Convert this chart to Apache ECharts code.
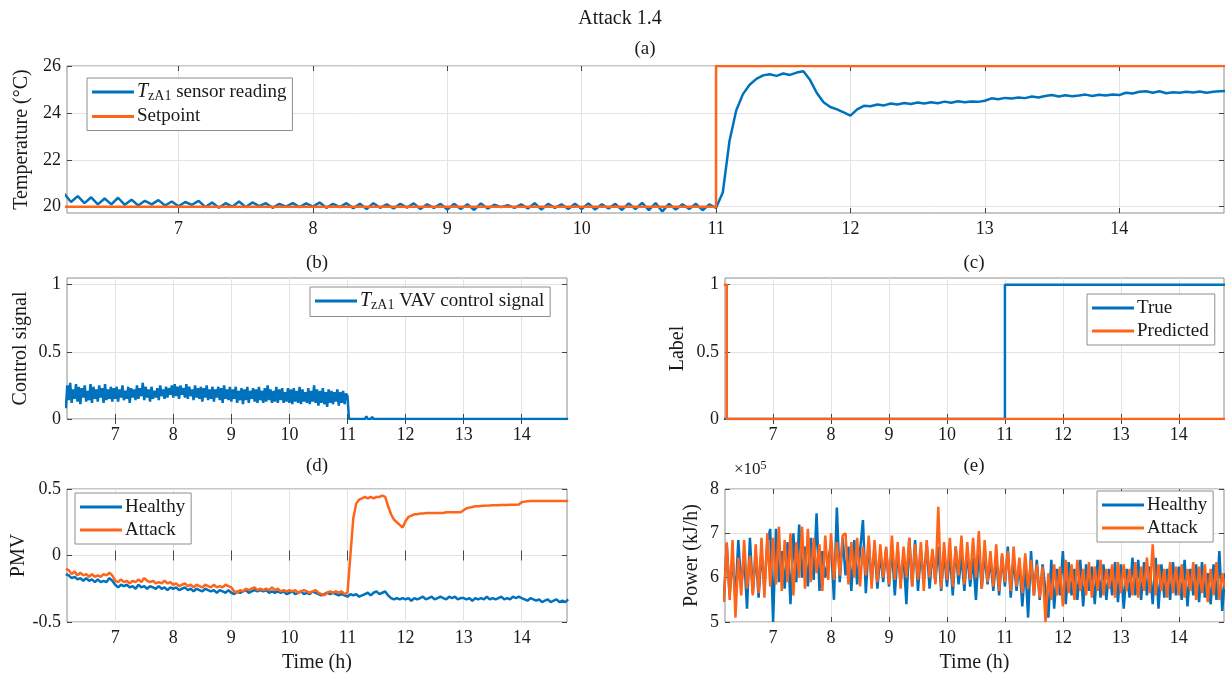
<!DOCTYPE html>
<html>
<head>
<meta charset="utf-8">
<title>Attack 1.4</title>
<script src="https://cdn.jsdelivr.net/npm/echarts@6/dist/echarts.min.js"></script>
<style>
  html, body { margin: 0; padding: 0; background: #ffffff; }
  #chart { width: 1225px; height: 674px; }
</style>
</head>
<body>
<div id="chart"></div>
<script>
// ---- sample times (h) ----
const hours = [
  6.15, 6.2, 6.25, 6.3, 6.35, 6.4, 6.45, 6.5, 6.55, 6.6, 6.65, 6.7, 6.75, 6.8, 6.85, 6.9, 6.95,
  7, 7.05, 7.1, 7.15, 7.2, 7.25, 7.3, 7.35, 7.4, 7.45, 7.5, 7.55, 7.6, 7.65, 7.7, 7.75, 7.8, 7.85, 7.9, 7.95,
  8, 8.05, 8.1, 8.15, 8.2, 8.25, 8.3, 8.35, 8.4, 8.45, 8.5, 8.55, 8.6, 8.65, 8.7, 8.75, 8.8, 8.85, 8.9, 8.95,
  9, 9.05, 9.1, 9.15, 9.2, 9.25, 9.3, 9.35, 9.4, 9.45, 9.5, 9.55, 9.6, 9.65, 9.7, 9.75, 9.8, 9.85, 9.9, 9.95,
  10, 10.05, 10.1, 10.15, 10.2, 10.25, 10.3, 10.35, 10.4, 10.45, 10.5, 10.55, 10.6, 10.65, 10.7, 10.75, 10.8, 10.85, 10.9, 10.95,
  11, 11.05, 11.1, 11.15, 11.2, 11.25, 11.3, 11.35, 11.4, 11.45, 11.5, 11.55, 11.6, 11.65, 11.7, 11.75, 11.8, 11.85, 11.9, 11.95,
  12, 12.05, 12.1, 12.15, 12.2, 12.25, 12.3, 12.35, 12.4, 12.45, 12.5, 12.55, 12.6, 12.65, 12.7, 12.75, 12.8, 12.85, 12.9, 12.95,
  13, 13.05, 13.1, 13.15, 13.2, 13.25, 13.3, 13.35, 13.4, 13.45, 13.5, 13.55, 13.6, 13.65, 13.7, 13.75, 13.8, 13.85, 13.9, 13.95,
  14, 14.05, 14.1, 14.15, 14.2, 14.25, 14.3, 14.35, 14.4, 14.45, 14.5, 14.55, 14.6, 14.65, 14.7, 14.75, 14.8
];

// ---- (a) zone temperature (°C) ----
const tempSensor = [
  20.55, 20.2, 20.45, 20.15, 20.4, 20.1, 20.35, 20.1, 20.38, 20.08, 20.3, 20.05, 20.25, 20.1, 20.28, 20.05, 20.22,
  20.02, 20.2, 20.08, 20.25, 19.98, 20.18, 19.95, 20.15, 20.0, 20.22, 19.98, 20.18, 20.02, 20.15, 19.95, 20.12, 20.0, 20.15, 19.98, 20.14,
  20.0, 20.18, 19.95, 20.12, 19.98, 20.15, 19.93, 20.12, 19.9, 20.15, 19.95, 20.1, 19.92, 20.12, 19.96, 20.14, 19.9, 20.1, 19.95, 20.12,
  19.88, 20.12, 19.9, 20.1, 19.86, 20.14, 19.92, 20.08, 19.98, 20.06, 19.95, 20.1, 19.92, 20.15, 19.88, 20.12, 19.95, 20.1, 19.9, 20.12,
  19.9, 20.14, 19.88, 20.1, 19.92, 20.12, 19.86, 20.14, 19.9, 20.16, 19.85, 20.15, 19.8, 20.12, 19.88, 20.1, 19.9, 20.12, 19.85, 20.1,
  19.95, 20.6, 22.8, 24.1, 24.8, 25.2, 25.45, 25.6, 25.65, 25.58, 25.68, 25.62, 25.72, 25.78, 25.4, 24.85, 24.45, 24.25, 24.15, 24.02,
  23.88, 24.15, 24.3, 24.28, 24.36, 24.32, 24.4, 24.36, 24.42, 24.38, 24.44, 24.4, 24.45, 24.41, 24.48, 24.43, 24.5, 24.45, 24.49, 24.47,
  24.52, 24.62, 24.58, 24.64, 24.61, 24.66, 24.63, 24.7, 24.66, 24.72, 24.76, 24.7, 24.75, 24.71, 24.74, 24.78, 24.72, 24.77, 24.74, 24.78,
  24.76, 24.86, 24.83, 24.9, 24.92, 24.86, 24.92, 24.84, 24.88, 24.86, 24.9, 24.87, 24.91, 24.86, 24.9, 24.92, 24.94
];
const setpointTime = [6.15, 11, 14.8];
const setpointValue = [20, 26, 26];

// ---- (b) VAV control signal, sampled every 1.5 min while active ----
const controlTime = [
  6.15, 6.175, 6.2, 6.225, 6.25, 6.275, 6.3, 6.325, 6.35, 6.375, 6.4, 6.425, 6.45, 6.475, 6.5, 6.525, 6.55,
  6.575, 6.6, 6.625, 6.65, 6.675, 6.7, 6.725, 6.75, 6.775, 6.8, 6.825, 6.85, 6.875, 6.9, 6.925, 6.95, 6.975,
  7, 7.025, 7.05, 7.075, 7.1, 7.125, 7.15, 7.175, 7.2, 7.225, 7.25, 7.275, 7.3, 7.325, 7.35, 7.375, 7.4, 7.425, 7.45, 7.475,
  7.5, 7.525, 7.55, 7.575, 7.6, 7.625, 7.65, 7.675, 7.7, 7.725, 7.75, 7.775, 7.8, 7.825, 7.85, 7.875, 7.9, 7.925, 7.95, 7.975,
  8, 8.025, 8.05, 8.075, 8.1, 8.125, 8.15, 8.175, 8.2, 8.225, 8.25, 8.275, 8.3, 8.325, 8.35, 8.375, 8.4, 8.425, 8.45, 8.475,
  8.5, 8.525, 8.55, 8.575, 8.6, 8.625, 8.65, 8.675, 8.7, 8.725, 8.75, 8.775, 8.8, 8.825, 8.85, 8.875, 8.9, 8.925, 8.95, 8.975,
  9, 9.025, 9.05, 9.075, 9.1, 9.125, 9.15, 9.175, 9.2, 9.225, 9.25, 9.275, 9.3, 9.325, 9.35, 9.375, 9.4, 9.425, 9.45, 9.475,
  9.5, 9.525, 9.55, 9.575, 9.6, 9.625, 9.65, 9.675, 9.7, 9.725, 9.75, 9.775, 9.8, 9.825, 9.85, 9.875, 9.9, 9.925, 9.95, 9.975,
  10, 10.025, 10.05, 10.075, 10.1, 10.125, 10.15, 10.175, 10.2, 10.225, 10.25, 10.275, 10.3, 10.325, 10.35, 10.375, 10.4, 10.425, 10.45, 10.475,
  10.5, 10.525, 10.55, 10.575, 10.6, 10.625, 10.65, 10.675, 10.7, 10.725, 10.75, 10.775, 10.8, 10.825, 10.85, 10.875, 10.9, 10.925, 10.95, 10.975,
  11, 11.025, 11.3, 11.325, 11.35, 11.4, 11.425, 11.45, 11.55, 11.575, 11.6, 11.65, 11.675, 11.7, 14.8
];
const controlSignal = [
  0.08, 0.25, 0.14, 0.27, 0.12, 0.22, 0.15, 0.26, 0.13, 0.24, 0.11, 0.23, 0.16, 0.25, 0.13, 0.21, 0.14,
  0.26, 0.12, 0.24, 0.15, 0.22, 0.13, 0.25, 0.16, 0.23, 0.12, 0.26, 0.14, 0.22, 0.15, 0.24, 0.13, 0.23,
  0.15, 0.24, 0.13, 0.22, 0.16, 0.25, 0.14, 0.21, 0.15, 0.24, 0.12, 0.23, 0.16, 0.22, 0.14, 0.25, 0.15, 0.23, 0.17, 0.27,
  0.14, 0.24, 0.16, 0.22, 0.13, 0.24, 0.15, 0.21, 0.16, 0.23, 0.14, 0.25, 0.17, 0.22, 0.15, 0.24, 0.16, 0.23, 0.18, 0.25,
  0.16, 0.26, 0.17, 0.24, 0.15, 0.25, 0.18, 0.23, 0.16, 0.26, 0.15, 0.24, 0.17, 0.22, 0.14, 0.25, 0.16, 0.23, 0.15, 0.24,
  0.13, 0.23, 0.16, 0.25, 0.14, 0.22, 0.15, 0.24, 0.13, 0.22, 0.16, 0.24, 0.14, 0.23, 0.12, 0.25, 0.15, 0.22, 0.14, 0.24,
  0.13, 0.22, 0.15, 0.24, 0.12, 0.21, 0.14, 0.23, 0.11, 0.22, 0.14, 0.24, 0.12, 0.21, 0.15, 0.23, 0.13, 0.22, 0.12, 0.24,
  0.14, 0.21, 0.12, 0.23, 0.13, 0.25, 0.14, 0.22, 0.12, 0.21, 0.13, 0.24, 0.12, 0.22, 0.14, 0.23, 0.12, 0.2, 0.13, 0.23,
  0.12, 0.22, 0.11, 0.23, 0.13, 0.21, 0.12, 0.24, 0.11, 0.22, 0.13, 0.2, 0.12, 0.23, 0.11, 0.21, 0.13, 0.25, 0.12, 0.22,
  0.1, 0.21, 0.12, 0.23, 0.11, 0.2, 0.09, 0.22, 0.12, 0.21, 0.11, 0.2, 0.13, 0.22, 0.1, 0.2, 0.12, 0.21, 0.11, 0.19,
  0.17, 0, 0, 0.02, 0, 0, 0.015, 0, 0, 0.01, 0, 0, 0.012, 0, 0
];

// ---- (c) detection labels ----
const labelTrueTime = [6.15, 11, 14.8];
const labelTrueValue = [0, 1, 1];
const labelPredTime = [6.15, 6.2, 14.8];
const labelPredValue = [1, 0, 0];

// ---- (d) PMV ----
const pmvHealthy = [
  -0.14, -0.15, -0.17, -0.16, -0.18, -0.17, -0.19, -0.17, -0.19, -0.18, -0.2, -0.18, -0.2, -0.19, -0.2, -0.17, -0.19,
  -0.22, -0.24, -0.22, -0.23, -0.22, -0.24, -0.23, -0.25, -0.22, -0.24, -0.23, -0.25, -0.23, -0.24, -0.25, -0.23, -0.25, -0.24, -0.26, -0.24,
  -0.25, -0.24, -0.26, -0.25, -0.24, -0.26, -0.25, -0.27, -0.25, -0.26, -0.27, -0.25, -0.26, -0.27, -0.26, -0.28, -0.26, -0.27, -0.28, -0.26,
  -0.28, -0.29, -0.27, -0.28, -0.27, -0.26, -0.28, -0.27, -0.26, -0.27, -0.26, -0.27, -0.26, -0.28, -0.27, -0.28, -0.27, -0.28, -0.27, -0.29,
  -0.28, -0.27, -0.29, -0.28, -0.27, -0.29, -0.28, -0.29, -0.27, -0.28, -0.29, -0.3, -0.29, -0.28, -0.29, -0.28, -0.29, -0.3, -0.29, -0.3,
  -0.31, -0.29, -0.3, -0.29, -0.31, -0.3, -0.29, -0.28, -0.3, -0.28, -0.27, -0.29, -0.28, -0.27, -0.3, -0.32, -0.33, -0.32, -0.33, -0.32,
  -0.33, -0.32, -0.34, -0.32, -0.33, -0.32, -0.31, -0.33, -0.32, -0.31, -0.33, -0.32, -0.31, -0.32, -0.33, -0.31, -0.32, -0.31, -0.33, -0.32,
  -0.32, -0.33, -0.32, -0.34, -0.32, -0.33, -0.32, -0.33, -0.31, -0.33, -0.32, -0.33, -0.32, -0.31, -0.33, -0.32, -0.33, -0.31, -0.32, -0.31,
  -0.32, -0.33, -0.34, -0.32, -0.33, -0.34, -0.33, -0.35, -0.34, -0.33, -0.35, -0.34, -0.33, -0.35, -0.34, -0.35, -0.33
];
const pmvAttack = [
  -0.1, -0.11, -0.14, -0.12, -0.15, -0.13, -0.15, -0.14, -0.16, -0.14, -0.16, -0.15, -0.16, -0.14, -0.15, -0.13, -0.15,
  -0.19, -0.2, -0.18, -0.2, -0.19, -0.21, -0.19, -0.2, -0.18, -0.2, -0.17, -0.19, -0.2, -0.19, -0.21, -0.2, -0.21, -0.19, -0.21, -0.2,
  -0.22, -0.21, -0.23, -0.22, -0.21, -0.23, -0.22, -0.24, -0.22, -0.23, -0.24, -0.22, -0.23, -0.24, -0.22, -0.24, -0.23, -0.24, -0.22, -0.23,
  -0.24, -0.27, -0.28, -0.26, -0.27, -0.25, -0.26, -0.25, -0.24, -0.26, -0.25, -0.26, -0.25, -0.26, -0.24, -0.26, -0.25, -0.27, -0.26, -0.27,
  -0.26, -0.27, -0.26, -0.28, -0.27, -0.26, -0.27, -0.28, -0.27, -0.26, -0.28, -0.29, -0.3, -0.28, -0.27, -0.28, -0.27, -0.28, -0.27, -0.29,
  -0.28, 0.0, 0.28, 0.39, 0.42, 0.43, 0.44, 0.43, 0.44, 0.43, 0.44, 0.44, 0.45, 0.44, 0.37, 0.31, 0.27, 0.25, 0.23, 0.21,
  0.26, 0.29, 0.3, 0.31, 0.31, 0.315, 0.315, 0.32, 0.32, 0.32, 0.32, 0.32, 0.32, 0.32, 0.325, 0.325, 0.325, 0.325, 0.325, 0.325,
  0.34, 0.355, 0.36, 0.365, 0.37, 0.37, 0.372, 0.374, 0.375, 0.376, 0.377, 0.378, 0.378, 0.379, 0.38, 0.38, 0.381, 0.382, 0.382, 0.383,
  0.4, 0.405, 0.408, 0.41, 0.41, 0.41, 0.41, 0.41, 0.41, 0.41, 0.41, 0.41, 0.41, 0.41, 0.41, 0.41, 0.41
];

// ---- (e) power, in units of 10^5 kJ/h ----
const powerHealthy = [
  5.45, 6.75, 5.6, 6.45, 5.55, 6.85, 5.8, 6.5, 5.3, 6.9, 5.65, 6.55, 5.55, 6.6, 5.75, 6.8, 7.1,
  5.0, 7.1, 5.9, 6.6, 5.75, 6.8, 5.4, 7.0, 5.9, 7.2, 6.0, 6.7, 5.8, 6.9, 5.95, 7.45, 5.7, 6.6, 6.0, 6.4,
  6.75, 5.5, 7.58, 5.9, 6.9, 6.05, 6.7, 5.7, 6.85, 5.85, 6.6, 7.3, 5.65, 6.8, 5.9, 6.7, 5.75, 6.55, 5.9, 6.65,
  5.8, 6.7, 5.6, 6.6, 5.9, 6.5, 5.4, 6.9, 5.8, 6.85, 5.7, 6.6, 5.95, 6.75, 5.75, 6.6, 5.9, 6.7, 5.7, 6.6,
  5.8, 6.55, 5.6, 6.7, 5.85, 6.5, 5.7, 6.6, 5.8, 6.45, 5.5, 6.65, 5.75, 6.55, 5.85, 6.4, 5.7, 6.45, 5.6, 6.5,
  5.8, 6.7, 5.55, 6.45, 5.7, 6.35, 5.35, 6.3, 5.1, 6.6, 5.6, 6.4, 5.5, 6.3, 5.7, 5.1, 6.4, 5.3, 6.2, 5.6,
  6.6, 5.4, 6.35, 5.6, 6.2, 5.5, 6.4, 5.35, 6.3, 5.7, 6.25, 5.4, 6.4, 5.55, 6.3, 5.5, 6.2, 5.6, 6.35, 5.45,
  6.3, 5.3, 6.2, 5.55, 6.45, 5.6, 6.4, 5.5, 6.35, 5.6, 6.25, 5.4, 6.45, 5.3, 6.3, 5.55, 6.2, 5.5, 6.35, 5.6,
  6.25, 5.5, 6.4, 5.35, 6.2, 5.6, 6.3, 5.45, 6.35, 5.55, 6.1, 5.4, 6.3, 5.5, 6.6, 5.25, 6.1
];
const powerAttack = [
  5.45, 6.8, 5.5, 6.85, 5.1, 6.45, 5.6, 6.85, 5.75, 6.5, 5.6, 6.75, 5.65, 6.9, 5.55, 7.0, 5.8,
  6.9, 5.85, 7.15, 5.7, 6.85, 5.9, 7.0, 5.6, 6.8, 6.0, 7.15, 5.75, 7.1, 5.9, 6.9, 6.1, 6.75, 5.7, 6.95, 5.95,
  7.0, 5.95, 6.8, 6.05, 6.95, 7.0, 5.85, 6.8, 6.0, 6.9, 5.8, 6.7, 6.05, 6.95, 5.75, 6.85, 5.9, 6.75, 6.0, 6.7,
  5.85, 6.95, 5.95, 6.8, 5.75, 6.7, 6.0, 6.9, 5.8, 6.75, 5.95, 6.8, 5.7, 6.85, 6.0, 6.65, 5.85, 7.6, 5.75, 6.8,
  5.95, 6.9, 5.8, 6.7, 6.05, 6.95, 5.85, 6.8, 5.95, 6.9, 6.0, 7.05, 5.75, 6.85, 5.9, 6.6, 5.8, 6.75, 5.7, 6.55,
  5.9, 6.6, 5.7, 6.7, 5.8, 6.45, 5.65, 6.55, 5.75, 6.4, 5.6, 6.3, 5.55, 6.25, 5.0, 6.1, 5.5, 6.3, 5.6, 6.25,
  5.35, 6.4, 5.65, 6.3, 5.5, 6.4, 5.7, 6.2, 5.6, 6.35, 5.55, 6.25, 5.7, 6.4, 5.6, 6.2, 5.75, 6.3, 5.55, 6.35,
  5.65, 6.3, 5.7, 6.2, 5.6, 6.35, 5.55, 6.25, 5.7, 6.45, 5.65, 6.75, 5.6, 6.3, 5.7, 6.2, 5.55, 6.35, 5.65, 6.25,
  5.6, 6.3, 5.55, 6.2, 5.7, 6.35, 5.5, 6.25, 5.65, 6.3, 5.45, 6.2, 5.6, 6.35, 5.5, 6.1, 5.75
];

// ---- tick labels ----
const timeTicks = [7, 8, 9, 10, 11, 12, 13, 14];
const tempTicks = [20, 22, 24, 26];
const unitTicks = [0, 0.5, 1];
const pmvTicks = [-0.5, 0, 0.5];
const powerTicks = [5, 6, 7, 8];

// ---- styling ----
const FONT = "'Liberation Serif', 'Times New Roman', serif";
const BLUE = '#0072BD';
const ORANGE = '#FF6418';
const TEXT = '#1a1a1a';
const BOX = '#8e8e8e';
const GRID_LINE = '#e3e3e3';
const TICK = '#444444';
const X_MIN = 6.17, X_MAX = 14.78;

const pairs = (xs, ys) => xs.map((x, i) => [x, ys[i]]);

const grids = [
  { left: 67, top: 66, width: 1157, height: 147 },
  { left: 67, top: 278, width: 500, height: 141 },
  { left: 725, top: 278, width: 499, height: 141 },
  { left: 67, top: 489, width: 500, height: 161 },
  { left: 725, top: 489, width: 499, height: 161 }
].map(g => Object.assign({ show: true, borderColor: BOX, borderWidth: 1, backgroundColor: '#fff' }, g));

const yCfg = [
  { min: 19.73, max: 26, step: 2, ticks: tempTicks, name: 'Temperature (°C)', gap: 31 },
  { min: 0, max: 1.05, step: 0.5, ticks: unitTicks, name: 'Control signal', gap: 36 },
  { min: 0, max: 1.05, step: 0.5, ticks: unitTicks, name: 'Label', gap: 37 },
  { min: -0.5, max: 0.5, step: 0.5, ticks: pmvTicks, name: 'PMV', gap: 36 },
  { min: 5, max: 8, step: 1, ticks: powerTicks, name: 'Power (kJ/h)', gap: 23 }
];
const xName = ['', '', '', 'Time (h)', 'Time (h)'];

const tickStyle = ticks => ({ inside: true, length: 5, customValues: ticks, lineStyle: { color: TICK, width: 1 } });
const labelStyle = (ticks, margin) => ({ customValues: ticks, margin, color: TEXT, fontFamily: FONT, fontSize: 18 });
const nameStyle = { color: TEXT, fontFamily: FONT, fontSize: 20 };

const xAxes = [], yAxes = [];
grids.forEach((g, k) => {
  const xb = { gridIndex: k, type: 'value', min: X_MIN, max: X_MAX, minInterval: 1, maxInterval: 1 };
  xAxes.push(Object.assign({}, xb, {
    position: 'bottom',
    axisLine: { show: false },
    axisTick: tickStyle(timeTicks),
    axisLabel: labelStyle(timeTicks, 7),
    splitLine: { show: true, lineStyle: { color: GRID_LINE, width: 1 } },
    name: xName[k], nameLocation: 'middle', nameGap: 31, nameTextStyle: nameStyle
  }));
  xAxes.push(Object.assign({}, xb, {
    position: 'top',
    axisLine: { show: false },
    axisTick: tickStyle(timeTicks),
    axisLabel: { show: false },
    splitLine: { show: false }
  }));
  const c = yCfg[k];
  const yb = { gridIndex: k, type: 'value', min: c.min, max: c.max, minInterval: c.step, maxInterval: c.step };
  yAxes.push(Object.assign({}, yb, {
    position: 'left',
    axisLine: { show: false },
    axisTick: tickStyle(c.ticks),
    axisLabel: labelStyle(c.ticks, 6),
    splitLine: { show: true, lineStyle: { color: GRID_LINE, width: 1 } },
    name: c.name, nameLocation: 'middle', nameRotate: 90, nameGap: c.gap, nameTextStyle: nameStyle
  }));
  yAxes.push(Object.assign({}, yb, {
    position: 'right',
    axisLine: { show: false },
    axisTick: tickStyle(c.ticks),
    axisLabel: { show: false },
    splitLine: { show: false }
  }));
});

function line(name, k, data, color, extra) {
  return Object.assign({
    type: 'line', name, data,
    xAxisIndex: 2 * k, yAxisIndex: 2 * k,
    showSymbol: false, symbol: 'none', animation: false,
    lineStyle: { color, width: 2.5 },
    itemStyle: { color },
    emphasis: { disabled: true }
  }, extra || {});
}

const series = [
  line('TzA1 sensor reading', 0, pairs(hours, tempSensor), BLUE),
  line('Setpoint', 0, pairs(setpointTime, setpointValue), ORANGE, { step: 'end' }),
  line('TzA1 VAV control signal', 1, pairs(controlTime, controlSignal), BLUE),
  line('True', 2, pairs(labelTrueTime, labelTrueValue), BLUE, { step: 'end' }),
  line('Predicted', 2, pairs(labelPredTime, labelPredValue), ORANGE, { step: 'end' }),
  line('Healthy', 3, pairs(hours, pmvHealthy), BLUE),
  line('Attack', 3, pairs(hours, pmvAttack), ORANGE),
  line('Healthy', 4, pairs(hours, powerHealthy), BLUE),
  line('Attack', 4, pairs(hours, powerAttack), ORANGE)
];

// legend text: "TzA1 ..." is drawn as italic T with an upright zA1 subscript
const legendFmt = name => name.indexOf('TzA1') === 0 ? '{it|T}{sub|zA1}' + name.slice(4) : name;
function legend(names, left, top) {
  return {
    data: names, left, top, orient: 'vertical',
    icon: 'rect', itemWidth: 42, itemHeight: 3, itemGap: 3,
    padding: [4, 6, 4, 5],
    borderColor: BOX, borderWidth: 1, borderRadius: 0, backgroundColor: '#ffffff',
    selectedMode: false,
    formatter: legendFmt,
    textStyle: {
      color: TEXT, fontFamily: FONT, fontSize: 19, lineHeight: 20, padding: [0, 0, 0, -2],
      rich: {
        it: { fontFamily: FONT, fontSize: 20, fontStyle: 'italic', color: TEXT },
        sub: { fontFamily: FONT, fontSize: 14, color: TEXT, padding: [9, 0, 0, 0] }
      }
    }
  };
}

function label(text, x, y, size) {
  return {
    type: 'text', x, y, silent: true,
    style: {
      text, fill: TEXT, fontFamily: FONT, fontSize: size,
      align: 'center', verticalAlign: 'middle', textAlign: 'center', textVerticalAlign: 'middle'
    }
  };
}

const option = {
  animation: false,
  backgroundColor: '#ffffff',
  grid: grids,
  xAxis: xAxes,
  yAxis: yAxes,
  series,
  legend: [
    legend(['TzA1 sensor reading', 'Setpoint'], 87, 78),
    legend(['TzA1 VAV control signal'], 310, 287),
    legend(['True', 'Predicted'], 1087, 294),
    legend(['Healthy', 'Attack'], 75, 493),
    legend(['Healthy', 'Attack'], 1097, 491)
  ],
  graphic: [
    label('Attack 1.4', 620, 19, 20),
    label('(a)', 645, 49, 19),
    label('(b)', 317, 263, 19),
    label('(c)', 974, 263, 19),
    label('(d)', 317, 466, 19),
    label('(e)', 974, 466, 19),
    {
      type: 'text', x: 734, y: 470, silent: true,
      style: {
        text: '×10{sup|5}', fill: TEXT, fontFamily: FONT, fontSize: 17,
        verticalAlign: 'middle', textVerticalAlign: 'middle',
        rich: { sup: { fontFamily: FONT, fontSize: 12, fill: TEXT, padding: [0, 0, 9, 0] } }
      }
    }
  ]
};

const chart = echarts.init(document.getElementById('chart'), null, { renderer: 'canvas' });
chart.setOption(option);
</script>
</body>
</html>
